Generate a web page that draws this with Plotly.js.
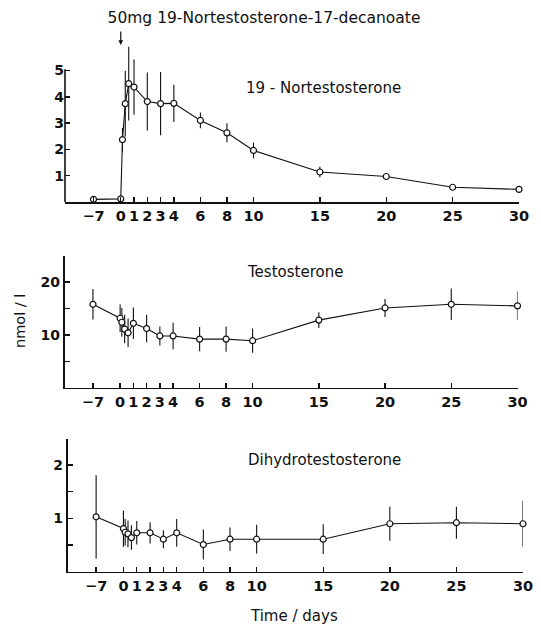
<!DOCTYPE html>
<html>
<head>
<meta charset="utf-8">
<script src="https://cdn.plot.ly/plotly-3.0.1.min.js"></script>
<style>
  html, body { margin: 0; padding: 0; background: #fff; }
  #chart { width: 541px; height: 625px; }
</style>
</head>
<body>
<div id="chart"></div>
<script>
// ---- data (days after injection) ----
const days = [-7, 0, 0.13, 0.34, 0.6, 1, 2, 3, 4, 6, 8, 10, 15, 20, 25, 30];

const nortestosterone    = [0.10, 0.12, 2.37, 3.74, 4.50, 4.37, 3.82, 3.74, 3.75, 3.10, 2.63, 1.96, 1.14, 0.97, 0.56, 0.48];
const nortestosteroneErr = [0, 0, 0.45, 1.25, 1.40, 1.05, 1.10, 1.20, 0.71, 0.30, 0.36, 0.30, 0.20, 0.06, 0.05, 0.05];

const testosterone    = [15.8, 13.15, 12.4, 11.1, 10.4, 12.2, 11.2, 9.8, 9.8, 9.2, 9.2, 8.9, 12.8, 15.1, 15.8, 15.5];
const testosteroneErr = [2.9, 2.6, 2.7, 2.7, 2.7, 3.0, 2.6, 1.8, 2.5, 2.3, 2.4, 2.3, 1.5, 1.7, 3.0, 2.7];

const dht    = [1.03, 0.81, 0.74, 0.71, 0.64, 0.73, 0.73, 0.61, 0.73, 0.51, 0.61, 0.61, 0.61, 0.90, 0.92, 0.90];
const dhtErr = [0.78, 0.34, 0.25, 0.25, 0.23, 0.22, 0.20, 0.17, 0.26, 0.28, 0.22, 0.27, 0.28, 0.32, 0.30, 0.43];

const xTickDays   = [-7, 0, 1, 2, 3, 4, 6, 8, 10, 15, 20, 25, 30];
const xTickLabels = ["\u22127", "0", "1", "2", "3", "4", "6", "8", "10", "15", "20", "25", "30"];

const panelLabels = ["19 - Nortestosterone", "Testosterone", "Dihydrotestosterone"];
const titleText = "50mg 19-Nortestosterone-17-decanoate";
const yLabel = "nmol / l";
const xLabel = "Time / days";

// ---- broken time scale: pre-dose period is compressed ----
const PRE_FACTOR = 0.293;
function pos(d) { return d < 0 ? d * PRE_FACTOR : d; }
const xs = days.map(pos);
const xTickPos = xTickDays.map(pos);

const W = 541, H = 625;
const px = v => v / W;
const py = v => 1 - v / H;

const ink = '#111';
const FONT = 'DejaVu Sans, Arial, sans-serif';

function series(y, err, xa, ya) {
  return {
    x: xs, y: y, xaxis: xa, yaxis: ya,
    type: 'scatter', mode: 'lines+markers',
    cliponaxis: false,
    line: { color: ink, width: 1.1 },
    marker: { symbol: 'circle', size: 6, color: '#fff', line: { color: ink, width: 1.2 } },
    error_y: { type: 'data', array: err, visible: true, thickness: 1.1, width: 0, color: ink },
    showlegend: false, hoverinfo: 'skip'
  };
}

const data = [
  series(nortestosterone, nortestosteroneErr, 'x', 'y'),
  series(testosterone, testosteroneErr, 'x2', 'y2'),
  series(dht, dhtErr, 'x3', 'y3')
];

function xAxis(left, right, anchor) {
  return {
    domain: [px(left), px(right)], anchor: anchor,
    range: [-4.2, 30], showgrid: false, zeroline: false,
    showline: true, linecolor: ink, linewidth: 1.6,
    ticks: 'inside', ticklen: 5, tickwidth: 1.4, tickcolor: ink,
    tickmode: 'array', tickvals: xTickPos, ticktext: xTickLabels,
    tickangle: 0,
    tickfont: { family: FONT, size: 14.5, color: ink, weight: 'bold' },
    fixedrange: true
  };
}
function yAxis(top, bottom, range, vals, texts, anchor, showline) {
  return {
    domain: [py(bottom), py(top)], anchor: anchor,
    range: range, showgrid: false, zeroline: false,
    showline: showline, linecolor: ink, linewidth: 1.6,
    ticks: 'inside', ticklen: 5, tickwidth: 1.4, tickcolor: ink,
    tickmode: 'array', tickvals: vals, ticktext: texts,
    tickfont: { family: FONT, size: 14, color: ink, weight: 'bold' },
    fixedrange: true
  };
}

// top panel: plotting area extends above 5 so the error bars are not clipped;
// its y-axis line is drawn only from 0 to 5 as in the original.
const topRange = [0, 6.2];
const topBottomPx = 202, topUnitPx = 26.3;
const topTopPx = topBottomPx - topRange[1] * topUnitPx;

const layout = {
  width: W, height: H,
  margin: { l: 0, r: 0, t: 0, b: 0 },
  paper_bgcolor: '#fff', plot_bgcolor: 'rgba(0,0,0,0)',
  title: {
    text: titleText, x: px(264), y: py(18), xanchor: 'center', yanchor: 'middle',
    font: { family: FONT, size: 15.5, color: ink }
  },
  xaxis:  xAxis(65, 519, 'y'),
  yaxis:  yAxis(topTopPx, topBottomPx, topRange, [1, 2, 3, 4, 5], ["1", "2", "3", "4", "5"], 'x', false),
  xaxis2: xAxis(64.5, 517.5, 'y2'),
  yaxis2: yAxis(255.7, 387.7, [0, 25], [5, 10, 15, 20, 25], ["", "10", "", "20", ""], 'x2', true),
  xaxis3: xAxis(67.5, 523, 'y3'),
  yaxis3: yAxis(438.5, 571.7, [0, 2.5], [0.5, 1, 1.5, 2, 2.5], ["", "1", "", "2", ""], 'x3', true),
  shapes: [
    { type: 'line', xref: 'x domain', yref: 'y', x0: 0, x1: 0, y0: 0, y1: 5.05,
      line: { color: ink, width: 1.6 } }
  ],
  annotations: [
    { text: panelLabels[0], xref: 'paper', yref: 'paper', x: px(323), y: py(88),
      xanchor: 'center', yanchor: 'middle', showarrow: false, font: { family: FONT, size: 15, color: ink } },
    { text: panelLabels[1], xref: 'paper', yref: 'paper', x: px(295), y: py(272),
      xanchor: 'center', yanchor: 'middle', showarrow: false, font: { family: FONT, size: 15, color: ink } },
    { text: panelLabels[2], xref: 'paper', yref: 'paper', x: px(324), y: py(460),
      xanchor: 'center', yanchor: 'middle', showarrow: false, font: { family: FONT, size: 15, color: ink } },
    { text: yLabel, xref: 'paper', yref: 'paper', x: px(20), y: py(321), textangle: -90,
      xanchor: 'center', yanchor: 'middle', showarrow: false, font: { family: FONT, size: 14.5, color: ink } },
    { text: xLabel, xref: 'paper', yref: 'paper', x: px(294), y: py(616),
      xanchor: 'center', yanchor: 'middle', showarrow: false, font: { family: FONT, size: 15, color: ink } },
    // injection arrow at day 0
    { text: '', xref: 'x', yref: 'paper', x: pos(0), y: py(45), ax: 0, ay: -15,
      showarrow: true, arrowhead: 2, arrowsize: 0.8, arrowwidth: 1.2, arrowcolor: ink }
  ]
};

Plotly.newPlot('chart', data, layout, { displayModeBar: false, staticPlot: true });
</script>
</body>
</html>
